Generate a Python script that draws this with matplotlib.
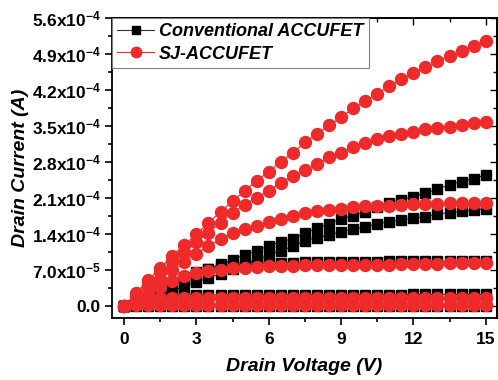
"""Drain current vs drain voltage: Conventional ACCUFET vs SJ-ACCUFET."""

import matplotlib

matplotlib.use("Agg")
import matplotlib.pyplot as plt
from matplotlib.lines import Line2D
from matplotlib.ticker import FixedLocator, MultipleLocator

plt.rcParams["font.family"] = ["Liberation Sans", "DejaVu Sans"]
plt.rcParams["mathtext.fontset"] = "custom"
plt.rcParams["mathtext.rm"] = "Liberation Sans:bold"
plt.rcParams["mathtext.bf"] = "Liberation Sans:bold"
plt.rcParams["mathtext.default"] = "rm"

# drain voltage (V), same grid for every curve
vd = [0.0, 0.5, 1.0, 1.5, 2.0, 2.5, 3.0, 3.5, 4.0, 4.5, 5.0, 5.5, 6.0, 6.5, 7.0, 7.5,
      8.0, 8.5, 9.0, 9.5, 10.0, 10.5, 11.0, 11.5, 12.0, 12.5, 13.0, 13.5, 14.0, 14.5, 15.0]

# Conventional ACCUFET, one list per gate bias (A)
conv_1 = [0, 8e-6, 1.8e-5, 2.9e-5, 4.0e-5, 5.1e-5, 6.1e-5, 7.2e-5, 8.2e-5, 9.0e-5, 1.00e-4,
          1.08e-4, 1.17e-4, 1.25e-4, 1.31e-4, 1.42e-4, 1.51e-4, 1.60e-4, 1.69e-4, 1.76e-4,
          1.83e-4, 1.92e-4, 2.00e-4, 2.07e-4, 2.13e-4, 2.20e-4, 2.27e-4, 2.36e-4, 2.42e-4,
          2.48e-4, 2.55e-4]
conv_2 = [0, 6e-6, 1.4e-5, 2.2e-5, 3.0e-5, 3.8e-5, 4.7e-5, 5.5e-5, 6.3e-5, 7.2e-5, 8.1e-5,
          9.0e-5, 9.9e-5, 1.08e-4, 1.16e-4, 1.27e-4, 1.33e-4, 1.38e-4, 1.45e-4, 1.49e-4,
          1.54e-4, 1.60e-4, 1.64e-4, 1.68e-4, 1.71e-4, 1.74e-4, 1.79e-4, 1.82e-4, 1.84e-4,
          1.87e-4, 1.89e-4]
conv_3 = [0, 1.0e-5, 2.2e-5, 3.4e-5, 4.6e-5, 5.7e-5, 6.6e-5, 7.2e-5, 7.6e-5, 7.9e-5, 8.1e-5,
          8.2e-5, 8.3e-5, 8.4e-5, 8.4e-5, 8.5e-5, 8.5e-5, 8.5e-5, 8.6e-5, 8.6e-5, 8.6e-5,
          8.6e-5, 8.7e-5, 8.7e-5, 8.7e-5, 8.7e-5, 8.7e-5, 8.8e-5, 8.8e-5, 8.8e-5, 8.8e-5]
conv_4 = [0, 1.5e-5, 2.0e-5, 2.1e-5, 2.1e-5, 2.2e-5, 2.2e-5, 2.2e-5, 2.2e-5, 2.2e-5, 2.2e-5,
          2.2e-5, 2.2e-5, 2.2e-5, 2.2e-5, 2.2e-5, 2.2e-5, 2.2e-5, 2.2e-5, 2.2e-5, 2.2e-5,
          2.2e-5, 2.2e-5, 2.2e-5, 2.3e-5, 2.3e-5, 2.3e-5, 2.3e-5, 2.3e-5, 2.3e-5, 2.3e-5]
conv_5 = [0, 1e-6, 1e-6, 1e-6, 1e-6, 1e-6, 1e-6, 1e-6, 1e-6, 1e-6, 1e-6, 1e-6, 1e-6, 1e-6,
          1e-6, 1e-6, 1e-6, 1e-6, 1e-6, 1e-6, 1e-6, 1e-6, 1e-6, 1e-6, 1e-6, 1e-6, 1e-6, 1e-6,
          1e-6, 1e-6, 1e-6]

# SJ-ACCUFET, one list per gate bias (A)
sj_1 = [0, 2.6e-5, 5.1e-5, 7.4e-5, 9.8e-5, 1.19e-4, 1.40e-4, 1.62e-4, 1.83e-4, 2.04e-4,
        2.24e-4, 2.44e-4, 2.61e-4, 2.81e-4, 2.98e-4, 3.18e-4, 3.35e-4, 3.51e-4, 3.67e-4,
        3.84e-4, 3.98e-4, 4.13e-4, 4.27e-4, 4.41e-4, 4.52e-4, 4.64e-4, 4.76e-4, 4.86e-4,
        4.95e-4, 5.05e-4, 5.15e-4]
sj_2 = [0, 2.2e-5, 4.5e-5, 6.6e-5, 8.7e-5, 1.05e-4, 1.24e-4, 1.43e-4, 1.62e-4, 1.82e-4,
        1.97e-4, 2.11e-4, 2.24e-4, 2.40e-4, 2.53e-4, 2.64e-4, 2.77e-4, 2.89e-4, 2.98e-4,
        3.09e-4, 3.17e-4, 3.24e-4, 3.30e-4, 3.35e-4, 3.39e-4, 3.44e-4, 3.47e-4, 3.49e-4,
        3.52e-4, 3.55e-4, 3.57e-4]
sj_3 = [0, 1.8e-5, 3.7e-5, 5.3e-5, 7.0e-5, 8.6e-5, 1.02e-4, 1.17e-4, 1.30e-4, 1.42e-4,
        1.49e-4, 1.56e-4, 1.63e-4, 1.70e-4, 1.76e-4, 1.81e-4, 1.84e-4, 1.87e-4, 1.89e-4,
        1.92e-4, 1.94e-4, 1.94e-4, 1.95e-4, 1.97e-4, 1.98e-4, 1.98e-4, 1.99e-4, 2.00e-4,
        2.00e-4, 2.01e-4, 2.01e-4]
sj_4 = [0, 1.2e-5, 2.5e-5, 3.7e-5, 4.9e-5, 5.9e-5, 6.5e-5, 6.9e-5, 7.1e-5, 7.4e-5, 7.5e-5,
        7.6e-5, 7.8e-5, 7.8e-5, 7.9e-5, 8.0e-5, 8.0e-5, 8.0e-5, 8.0e-5, 8.0e-5, 8.05e-5,
        8.1e-5, 8.1e-5, 8.15e-5, 8.2e-5, 8.2e-5, 8.25e-5, 8.3e-5, 8.3e-5, 8.35e-5, 8.4e-5]
sj_5 = [0, 1.2e-5, 1.5e-5, 1.55e-5, 1.55e-5, 1.55e-5, 1.55e-5, 1.55e-5, 1.55e-5, 1.55e-5,
        1.55e-5, 1.55e-5, 1.55e-5, 1.55e-5, 1.55e-5, 1.55e-5, 1.55e-5, 1.55e-5, 1.55e-5,
        1.55e-5, 1.55e-5, 1.55e-5, 1.55e-5, 1.6e-5, 1.6e-5, 1.6e-5, 1.6e-5, 1.6e-5, 1.6e-5,
        1.6e-5, 1.6e-5]
sj_6 = [0, 2e-6, 2e-6, 2e-6, 2e-6, 2e-6, 2e-6, 2e-6, 2e-6, 2e-6, 2e-6, 2e-6, 2e-6, 2e-6,
        2e-6, 2e-6, 2e-6, 2e-6, 2e-6, 2e-6, 2e-6, 2e-6, 2e-6, 2e-6, 2e-6, 2e-6, 2e-6, 2e-6,
        2e-6, 2e-6, 2e-6]

conv_curves = [conv_1, conv_2, conv_3, conv_4, conv_5]
sj_curves = [sj_1, sj_2, sj_3, sj_4, sj_5, sj_6]

ytick_values = [0.0, 7.0e-5, 1.4e-4, 2.1e-4, 2.8e-4, 3.5e-4, 4.2e-4, 4.9e-4, 5.6e-4]
ytick_labels = ["0.0", "7.0x10$^{-5}$", "1.4x10$^{-4}$", "2.1x10$^{-4}$", "2.8x10$^{-4}$",
                "3.5x10$^{-4}$", "4.2x10$^{-4}$", "4.9x10$^{-4}$", "5.6x10$^{-4}$"]
xtick_values = [0, 3, 6, 9, 12, 15]

RED = "#ee2a2a"
BLACK = "#000000"

fig = plt.figure(figsize=(4.98, 3.80), dpi=100)
ax = fig.add_axes([0.225, 0.163, 0.772, 0.790])

for cur in conv_curves:
    ax.plot(vd, cur, color="#333333", linewidth=0.8, marker="s", markersize=6.8,
            markerfacecolor=BLACK, markeredgecolor=BLACK, zorder=2)
for cur in sj_curves:
    ax.plot(vd, cur, color=RED, linewidth=0.8, marker="o", markersize=8.6,
            markerfacecolor=RED, markeredgecolor=RED, zorder=3)

ax.set_xlim(-0.5, 15.45)
ax.set_ylim(-2.3e-5, 5.6e-4)

ax.xaxis.set_major_locator(FixedLocator(xtick_values))
ax.xaxis.set_minor_locator(MultipleLocator(1.5))
ax.set_yticks(ytick_values)
ax.set_yticklabels(ytick_labels)
ax.yaxis.set_minor_locator(MultipleLocator(3.5e-5))

ax.tick_params(which="both", direction="out", top=False, right=False, width=1.2)
ax.tick_params(which="major", length=5, labelsize=12.5)
ax.tick_params(which="minor", length=3)
ax.tick_params(axis="x", which="major", pad=5)
ax.tick_params(axis="y", which="major", pad=3)
for lab in ax.get_xticklabels() + ax.get_yticklabels():
    lab.set_fontweight("bold")

# mirrored inward ticks on top and right spines
top = ax.secondary_xaxis("top")
top.set_xticks(xtick_values)
top.xaxis.set_minor_locator(MultipleLocator(1.5))
top.tick_params(which="both", direction="in", labeltop=False, width=1.0)
top.tick_params(which="major", length=5)
top.tick_params(which="minor", length=3)
right = ax.secondary_yaxis("right")
right.set_yticks(ytick_values)
right.yaxis.set_minor_locator(MultipleLocator(3.5e-5))
right.tick_params(which="both", direction="in", labelright=False, width=1.0)
right.tick_params(which="major", length=5)
right.tick_params(which="minor", length=3)

for side in ["left", "bottom", "top", "right"]:
    ax.spines[side].set_linewidth(1.3)
top.spines["top"].set_linewidth(1.3)
right.spines["right"].set_linewidth(1.3)

ax.set_xlabel("Drain Voltage (V)", fontsize=14, fontweight="bold", style="italic",
              labelpad=8)
ax.set_ylabel("Drain Current (A)", fontsize=14, fontweight="bold", style="italic",
              labelpad=2)

handles = [
    Line2D([], [], color="#333333", linewidth=0.8, marker="s", markersize=5.5,
           markerfacecolor=BLACK, markeredgecolor=BLACK),
    Line2D([], [], color=RED, linewidth=0.8, marker="o", markersize=7.5,
           markerfacecolor=RED, markeredgecolor=RED),
]
leg = ax.legend(handles, ["Conventional ACCUFET", "SJ-ACCUFET"], loc="upper left",
                bbox_to_anchor=(0.0, 1.0), borderaxespad=0.0, frameon=True,
                fancybox=False, edgecolor="#808080", framealpha=1.0,
                prop={"size": 13, "weight": "bold", "style": "italic"},
                handlelength=2.0, handletextpad=0.3, borderpad=0.3,
                labelspacing=0.3)
leg.get_frame().set_linewidth(0.8)
leg.set_zorder(5)

fig.savefig("out.png", dpi=100)
